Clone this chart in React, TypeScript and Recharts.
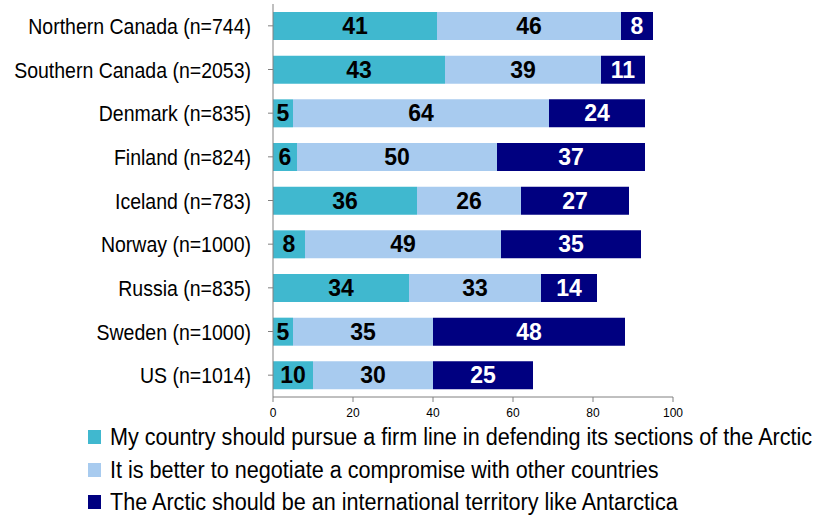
import React from 'react';
import { BarChart, Bar, XAxis, YAxis, LabelList } from 'recharts';

const categories = [
  'Northern Canada (n=744)',
  'Southern Canada (n=2053)',
  'Denmark (n=835)',
  'Finland (n=824)',
  'Iceland (n=783)',
  'Norway (n=1000)',
  'Russia (n=835)',
  'Sweden (n=1000)',
  'US (n=1014)',
];

const firmLine = [41, 43, 5, 6, 36, 8, 34, 5, 10];
const compromise = [46, 39, 64, 50, 26, 49, 33, 35, 30];
const international = [8, 11, 24, 37, 27, 35, 14, 48, 25];

const xTicks = [0, 20, 40, 60, 80, 100];

const series = [
  { key: 'firm', name: 'My country should pursue a firm line in defending its sections of the Arctic', color: '#40B8CF', labelColor: '#000000' },
  { key: 'comp', name: 'It is better to negotiate a compromise with other countries', color: '#A8CBEF', labelColor: '#000000' },
  { key: 'intl', name: 'The Arctic should be an international territory like Antarctica', color: '#000080', labelColor: '#FFFFFF' },
];

const data = categories.map((name, i) => ({
  name,
  firm: firmLine[i],
  comp: compromise[i],
  intl: international[i],
}));

const FONT = '"Liberation Sans", Arial, sans-serif';

// category labels look vertically stretched in the original
const CategoryTick = (props: any) => {
  const { x, y, payload } = props;
  return (
    <g transform={`translate(${x},${y}) scale(1,1.17)`}>
      <text x={0} y={0} dy="0.36em" textAnchor="end" fontSize={19.5} fontFamily={FONT} fill="#000">
        {payload.value}
      </text>
    </g>
  );
};

export default function App() {
  return (
    <div style={{ position: 'absolute', left: 0, top: 0, width: 822, height: 518, background: '#fff' }}>
      <BarChart
        width={822}
        height={518}
        data={data}
        layout="vertical"
        margin={{ top: 4, right: 149, bottom: 91, left: 0 }}
        barSize={28}
      >
        <XAxis
          type="number"
          domain={[0, 100]}
          ticks={xTicks}
          height={30}
          stroke="#808080"
          tickSize={5}
          tickMargin={6}
          tick={{ fill: '#000', fontSize: 12, fontFamily: FONT }}
        />
        <YAxis
          type="category"
          dataKey="name"
          width={273}
          stroke="#808080"
          tickSize={5}
          tickMargin={17}
          tick={<CategoryTick />}
          interval={0}
        />
        {series.map((s) => (
          <Bar key={s.key} dataKey={s.key} stackId="a" fill={s.color} isAnimationActive={false}>
            <LabelList
              dataKey={s.key}
              position="center"
              fill={s.labelColor}
              fontSize={23}
              fontWeight="bold"
              fontFamily={FONT}
            />
          </Bar>
        ))}
      </BarChart>
      <div style={{ position: 'absolute', left: 88, top: 421, fontFamily: FONT, fontSize: 21.6, color: '#000' }}>
        {series.map((s) => (
          <div key={s.key} style={{ display: 'flex', alignItems: 'center', height: 32.5 }}>
            <span style={{ display: 'inline-block', width: 13, height: 14, background: s.color, marginRight: 9 }} />
            <span style={{ display: 'inline-block', transform: 'scaleY(1.08)', whiteSpace: 'nowrap' }}>{s.name}</span>
          </div>
        ))}
      </div>
    </div>
  );
}
